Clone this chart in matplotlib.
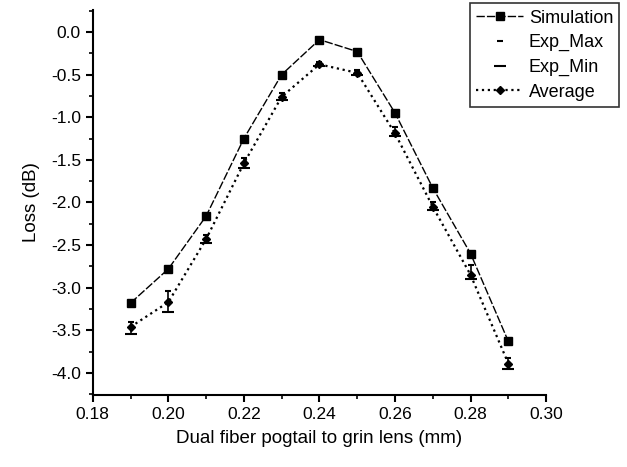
import numpy as np
import matplotlib
matplotlib.use('Agg')
import matplotlib.pyplot as plt
from matplotlib import rcParams
from matplotlib.ticker import MultipleLocator, FormatStrFormatter

rcParams['font.family'] = ['Liberation Sans', 'DejaVu Sans']
rcParams['font.size'] = 12

# Values
gap = [0.19, 0.20, 0.21, 0.22, 0.23, 0.24, 0.25, 0.26, 0.27, 0.28, 0.29]
simulation = [-3.18, -2.78, -2.16, -1.25, -0.50, -0.09, -0.23, -0.95, -1.83, -2.60, -3.63]
average = [-3.46, -3.17, -2.43, -1.54, -0.76, -0.38, -0.48, -1.19, -2.05, -2.85, -3.89]
exp_max = [-3.40, -3.04, -2.38, -1.48, -0.72, -0.35, -0.45, -1.12, -2.00, -2.73, -3.82]
exp_min = [-3.54, -3.28, -2.48, -1.60, -0.80, -0.40, -0.51, -1.22, -2.09, -2.90, -3.95]

fig = plt.figure(figsize=(6.27, 4.67), dpi=100)
ax = fig.add_axes([0.148, 0.154, 0.723, 0.825])

ax.plot(gap, simulation, color='black', linewidth=1.0, dashes=(6, 1.5),
        marker='s', markersize=6, label='Simulation')
ax.vlines(gap, exp_min, exp_max, color='black', linewidth=1.2)
ax.plot(gap, exp_max, linestyle='none', color='black', marker='_',
        markersize=5, markeredgewidth=1.5, label='Exp_Max')
ax.plot(gap, exp_min, linestyle='none', color='black', marker='_',
        markersize=9, markeredgewidth=1.5, label='Exp_Min')
ax.plot(gap, average, color='black', linewidth=1.6, linestyle=':',
        marker='D', markersize=4.5, label='Average')

ax.set_xlim(0.18, 0.30)
ax.set_ylim(-4.26, 0.26)
ax.xaxis.set_major_locator(MultipleLocator(0.02))
ax.xaxis.set_minor_locator(MultipleLocator(0.01))
ax.yaxis.set_major_locator(MultipleLocator(0.5))
ax.yaxis.set_minor_locator(MultipleLocator(0.25))
ax.xaxis.set_major_formatter(FormatStrFormatter('%.2f'))
ax.yaxis.set_major_formatter(FormatStrFormatter('%.1f'))

ax.spines['top'].set_visible(False)
ax.spines['right'].set_visible(False)
ax.spines['left'].set_linewidth(1.5)
ax.spines['bottom'].set_linewidth(1.5)
ax.tick_params(which='major', direction='out', length=5, width=1.5, labelsize=12.5)
ax.tick_params(which='minor', direction='out', length=3, width=1.2)

ax.set_xlabel('Dual fiber pogtail to grin lens (mm)', fontsize=13.5, labelpad=6)
ax.set_ylabel('Loss (dB)', fontsize=13.5, labelpad=8)

leg = fig.legend(loc='upper right', bbox_to_anchor=(0.988, 0.993), fontsize=13,
                 frameon=True, fancybox=False, edgecolor='black', numpoints=1,
                 handlelength=2.6, handletextpad=0.3, borderpad=0.35,
                 labelspacing=0.42, borderaxespad=0)
leg.get_frame().set_linewidth(1.2)

fig.savefig('out.png', dpi=100)
